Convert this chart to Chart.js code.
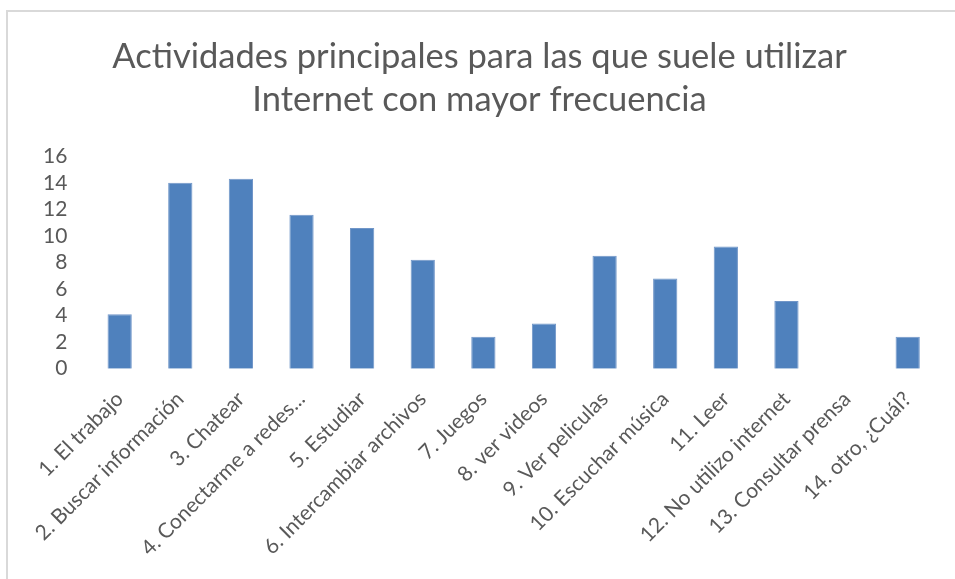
<!DOCTYPE html>
<html>
<head>
<meta charset="utf-8">
<script src="https://cdn.jsdelivr.net/npm/chart.js@4/dist/chart.umd.min.js"></script>
<style>
  html, body { margin: 0; padding: 0; background: #fff; overflow: hidden; }
  #frame {
    position: absolute; left: 6px; top: 10px; width: 1000px; height: 700px;
    border-top: 2px solid #d9d9d9; border-left: 2px solid #d9d9d9;
  }
  #wrap { position: absolute; left: 0; top: 0; width: 955px; height: 579px; }
</style>
</head>
<body>
<div id="frame"></div>
<div id="wrap"><canvas id="myChart" width="955" height="579"></canvas></div>
<script>
// CHART DATA
const titleLines = [
  "Actividades principales para las que suele utilizar",
  "Internet con mayor frecuencia",
];
const activityLabels = [
  "1. El trabajo",
  "2. Buscar información",
  "3. Chatear",
  "4. Conectarme a redes...",
  "5. Estudiar",
  "6. Intercambiar archivos",
  "7. Juegos",
  "8. ver videos",
  "9. Ver peliculas",
  "10. Escuchar música",
  "11. Leer",
  "12. No utilizo internet",
  "13. Consultar prensa",
  "14. otro, ¿Cuál?",
];
const activityValues = [4.1, 14.0, 14.3, 11.6, 10.6, 8.2, 2.4, 3.4, 8.5, 6.8, 9.2, 5.1, 0, 2.4];
const yMin = 0;
const yMax = 16;
const yStep = 2;

const textColor = "#595959";
const fontFamily = "Lato, 'Open Sans', sans-serif";

const ctx = document.getElementById("myChart").getContext("2d");

const myChartObj = new Chart(ctx, {
  type: "bar",
  data: {
    labels: activityLabels,
    datasets: [
      {
        label: "Serie 1",
        data: activityValues,
        backgroundColor: "#4f81bd",
        borderColor: "#7196c8",
        borderWidth: 1,
        categoryPercentage: 1,
        barPercentage: 0.4,
      },
    ],
  },
  options: {
    responsive: false,
    animation: false,
    layout: {
      padding: { left: 21, right: 17, top: 0, bottom: 0 },
    },
    plugins: {
      legend: { display: false },
      tooltip: { enabled: false },
      title: {
        display: true,
        text: titleLines,
        color: textColor,
        font: { family: fontFamily, size: 34.5, weight: "normal", lineHeight: 1.25 },
        padding: { top: 35, bottom: 35 },
      },
    },
    scales: {
      x: {
        grid: { display: false, drawTicks: false },
        border: { display: false },
        ticks: {
          color: textColor,
          font: { family: fontFamily, size: 21 },
          minRotation: 45,
          maxRotation: 45,
          autoSkip: false,
          padding: 18,
        },
      },
      y: {
        min: yMin,
        max: yMax,
        grid: { display: false, drawTicks: false },
        border: { display: false },
        ticks: {
          stepSize: yStep,
          autoSkip: false,
          color: textColor,
          font: { family: fontFamily, size: 21 },
          padding: 22,
        },
      },
    },
  },
});
</script>
</body>
</html>
